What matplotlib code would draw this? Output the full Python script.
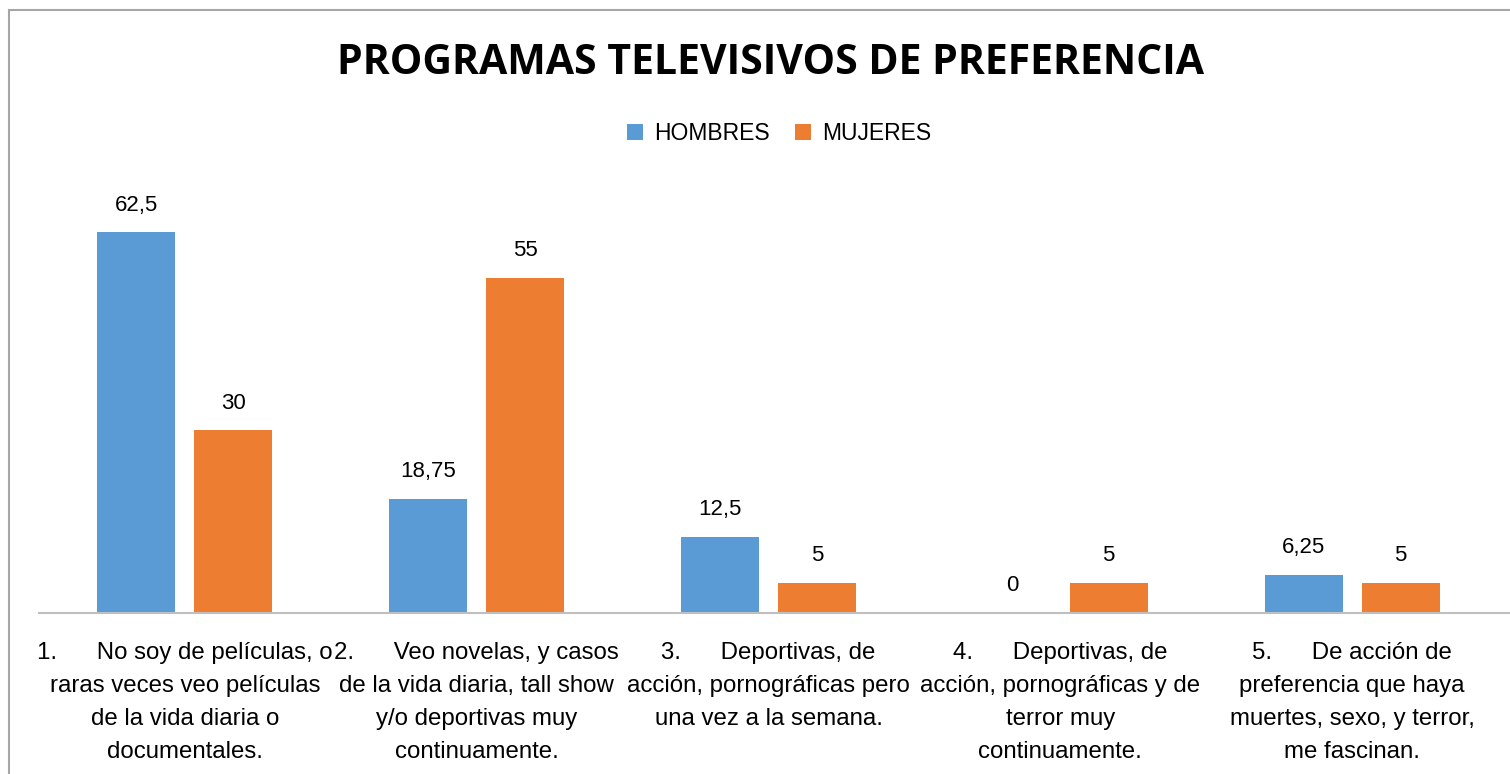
import matplotlib.pyplot as plt
import numpy as np
from matplotlib.patches import Rectangle

categorias = [
    "1.      No soy de películas, o\nraras veces veo películas\nde la vida diaria o\ndocumentales.",
    "2.      Veo novelas, y casos\nde la vida diaria, tall show\ny/o deportivas muy\ncontinuamente.",
    "3.      Deportivas, de\nacción, pornográficas pero\nuna vez a la semana.",
    "4.      Deportivas, de\nacción, pornográficas y de\nterror muy\ncontinuamente.",
    "5.      De acción de\npreferencia que haya\nmuertes, sexo, y terror,\nme fascinan.",
]
hombres = [62.5, 18.75, 12.5, 0, 6.25]
mujeres = [30, 55, 5, 5, 5]
etiq_hombres = ["62,5", "18,75", "12,5", "0", "6,25"]
etiq_mujeres = ["30", "55", "5", "5", "5"]

plt.rcParams['font.family'] = ['Liberation Sans', 'DejaVu Sans']

fig = plt.figure(figsize=(15.1, 7.74), dpi=100)
ax = fig.add_axes([0.0258, 0.208, 0.974, 0.5508])

x = np.arange(len(categorias))
w = 0.267
b1 = ax.bar(x - 0.166, hombres, w, color='#5B9BD5', label='HOMBRES')
b2 = ax.bar(x + 0.166, mujeres, w, color='#ED7D31', label='MUJERES')
ax.bar_label(b1, labels=etiq_hombres, padding=12, fontsize=16)
ax.bar_label(b2, labels=etiq_mujeres, padding=12, fontsize=16)

ax.set_xlim(-0.5, 4.54)
ax.set_ylim(0, 70)
ax.set_yticks([])
ax.set_xticks(x)
ax.set_xticklabels(categorias, fontsize=17.3, linespacing=1.64)
ax.tick_params(axis='x', length=0, pad=21)
for s in ['top', 'right', 'left']:
    ax.spines[s].set_visible(False)
ax.spines['bottom'].set_color('#bfbfbf')
ax.spines['bottom'].set_linewidth(1.5)

fig.text(0.51, 0.918, 'PROGRAMAS TELEVISIVOS DE PREFERENCIA', ha='center', va='center',
         fontsize=29.5, fontweight='bold', family=['Open Sans', 'DejaVu Sans'])
fig.legend(loc='center', bbox_to_anchor=(0.516, 0.828), ncol=2, frameon=False,
           fontsize=16.5, handlelength=0.7, handleheight=0.7, columnspacing=1.1,
           handletextpad=0.5)

fig.patches.append(Rectangle((9 / 1510, -0.01), 1.0, 1 - 10 / 774 + 0.01,
                             transform=fig.transFigure, fill=False,
                             edgecolor='#a6a6a6', linewidth=1.5))

plt.savefig('out.png')
